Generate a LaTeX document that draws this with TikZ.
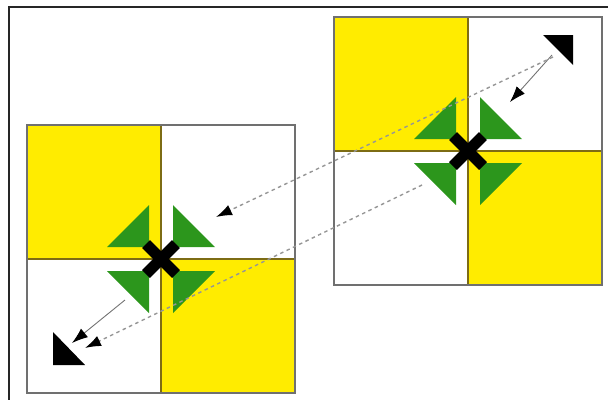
\documentclass[tikz,border=0pt]{standalone}
\usepackage{xcolor}
\usepackage{tikz}
\usetikzlibrary{arrows.meta,calc}
\definecolor{tileyel}{RGB}{255,236,0}
\definecolor{pingreen}{RGB}{44,150,28}
\definecolor{sqgray}{RGB}{112,112,112}
\definecolor{divolive}{RGB}{125,108,20}
\definecolor{dashgray}{RGB}{150,150,150}
\tikzset{
  frameline/.style={line width=1.6pt,draw=black!85},
  tile/.style={fill=tileyel},
  sqborder/.style={line width=1.4pt,draw=sqgray},
  divider/.style={line width=1.4pt,draw=divolive},
  pinwheel/.style={fill=pingreen},
  xarm/.style={line width=11pt,draw=black},
  corner/.style={fill=black},
  movearr/.style={-{Latex[length=16pt,width=11pt,color=black]},line width=0.9pt,draw=black!55},
  jumparr/.style={-{Latex[length=16pt,width=11pt,color=black]},line width=1.4pt,draw=dashgray,dash pattern=on 3.5pt off 3.5pt},
}
\begin{document}
\begin{tikzpicture}[x=1pt,y=-1pt]
  \useasboundingbox (0,0) rectangle (608,400);
  \draw[frameline] (608,7) -- (9,7) -- (9,400);

  \coordinate (lc) at (161,259);
  \coordinate (rc) at (468,151);

  % the two boards
  \foreach \c in {lc,rc} {
    \fill[tile] (\c) rectangle ++(-134,-134);
    \fill[tile] (\c) rectangle ++(134,134);
    \draw[divider] ($(\c)+(-134,0)$) -- ($(\c)+(134,0)$);
    \draw[divider] ($(\c)+(0,-134)$) -- ($(\c)+(0,134)$);
    \draw[sqborder] ($(\c)+(-134,-134)$) rectangle ($(\c)+(134,134)$);
    \foreach \sx/\sy in {-1/-1,1/-1,-1/1,1/1}
      \fill[pinwheel] ($(\c)+(\sx*12,\sy*12)$) -- ++(\sx*42,0) -- ++(-\sx*42,\sy*42) -- cycle;
    \draw[xarm] ($(\c)+(-15,-15)$) -- ($(\c)+(15,15)$);
    \draw[xarm] ($(\c)+(-15,15)$) -- ($(\c)+(15,-15)$);
  }

  % corner markers
  \fill[corner] (53,365) coordinate (lblk) -- (53,332) -- (85,365) -- cycle;
  \fill[corner] (573,35) coordinate (rblk) -- (543,35) -- (573,65) -- cycle;

  \coordinate (lfrom) at (125,300);
  \coordinate (lto) at (72,343);
  \coordinate (rfrom) at (552,55);
  \coordinate (rto) at (510,102);
  \draw[movearr] (lfrom) -- (lto);
  \draw[movearr] (rfrom) -- (rto);

  \coordinate (jfrom) at (553,57);
  \coordinate (jto) at (216,217);
  \coordinate (kfrom) at (422,185);
  \coordinate (kto) at (85,348);
  \draw[jumparr] (jfrom) -- (jto);
  \draw[jumparr] (kfrom) -- (kto);
\end{tikzpicture}
\end{document}
